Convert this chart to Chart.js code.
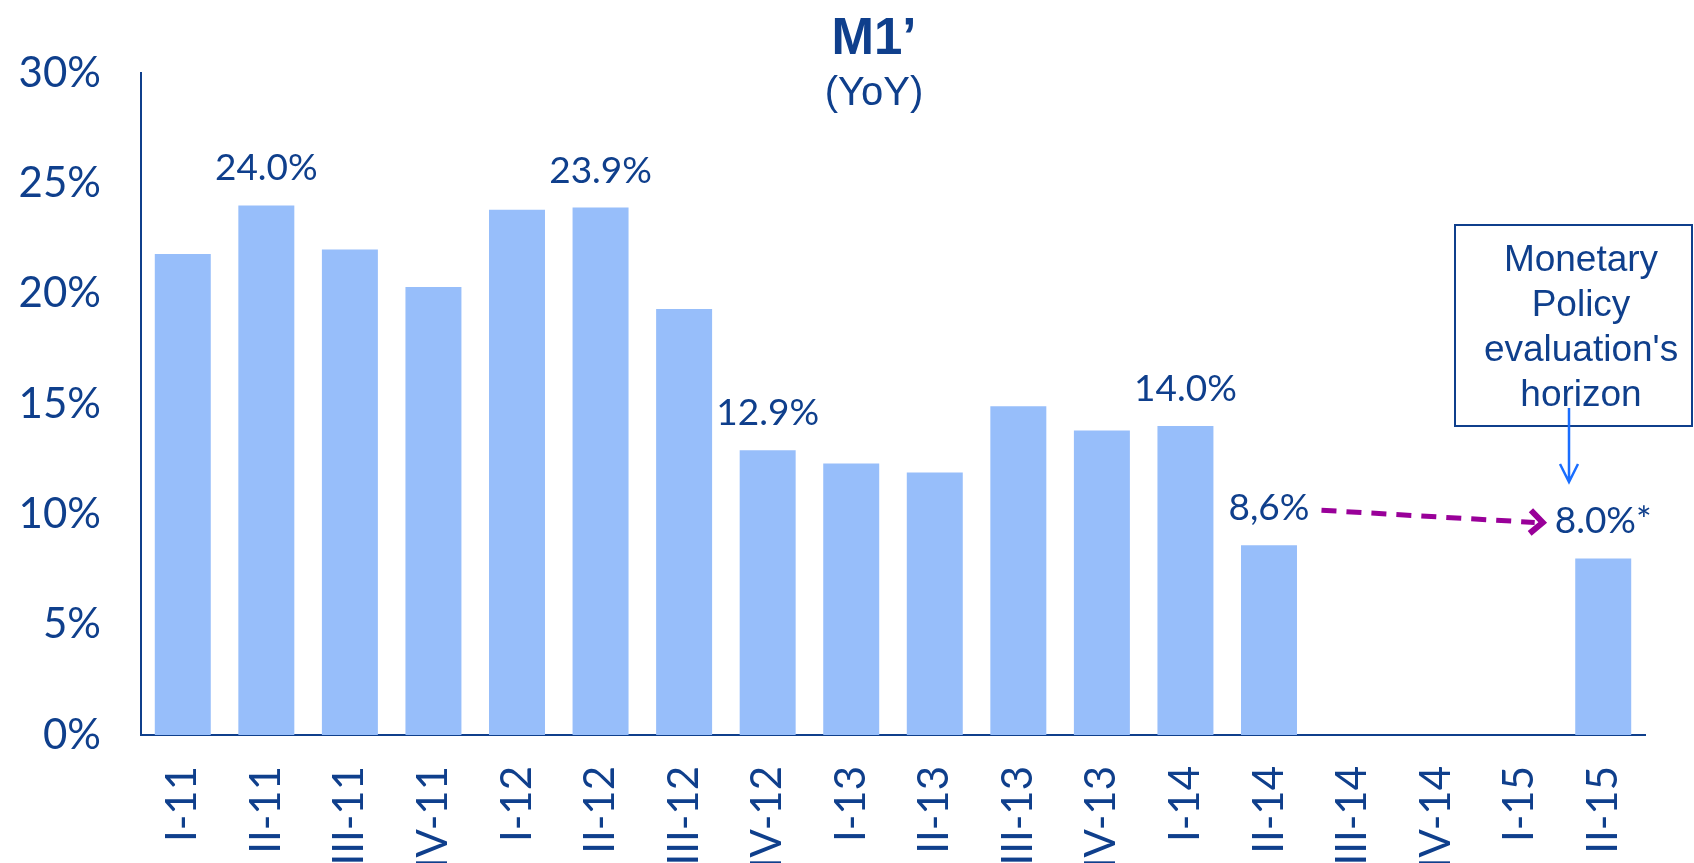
<!DOCTYPE html>
<html>
<head>
<meta charset="utf-8">
<script src="https://cdn.jsdelivr.net/npm/chart.js@4.4.0/dist/chart.umd.min.js"></script>
<style>
  html, body { margin: 0; padding: 0; background: #fff; overflow: hidden; }
  #wrap { width: 1694px; height: 863px; position: relative; }
</style>
</head>
<body>
<div id="wrap"><canvas id="chart"></canvas></div>
<script>
// M1' year-on-year growth, by quarter
const quarters = ['I-11', 'II-11', 'III-11', 'IV-11', 'I-12', 'II-12', 'III-12', 'IV-12',
                  'I-13', 'II-13', 'III-13', 'IV-13', 'I-14', 'II-14', 'III-14', 'IV-14', 'I-15', 'II-15'];
const m1Growth = [21.8, 24.0, 22.0, 20.3, 23.8, 23.9, 19.3, 12.9,
                  12.3, 11.9, 14.9, 13.8, 14.0, 8.6, null, null, null, 8.0];
const barLabels = [null, '24.0%', null, null, null, '23.9%', null, '12.9%',
                   null, null, null, null, '14.0%', '8,6%', null, null, null, '8.0%*'];
const yTicks = [0, 5, 10, 15, 20, 25, 30];
const noteLines = ['Monetary', 'Policy', "evaluation's", 'horizon'];

const NAVY = '#0F3F8C';
const BAR = '#97BEFA';
const PURPLE = '#990099';
const ARROW_BLUE = '#1A6EFF';

const overlay = {
    id: 'overlay',
    afterDatasetsDraw(chart) {
        const ctx = chart.ctx;
        const meta = chart.getDatasetMeta(0);
        ctx.save();
        ctx.fillStyle = NAVY;
        ctx.textAlign = 'center';
        ctx.textBaseline = 'middle';

        // value labels above selected bars
        ctx.font = '37px Lato';
        const pos = {};
        barLabels.forEach((txt, i) => {
            if (!txt) return;
            const bar = meta.data[i];
            const y = bar.y - 37;
            ctx.fillText(txt, bar.x, y);
            pos[i] = { x: bar.x, y: y, w: ctx.measureText(txt).width };
        });

        // title
        ctx.font = 'bold 51px "Liberation Sans"';
        ctx.fillText('M1\u2019', 874, 40);
        ctx.font = '40px "Liberation Sans"';
        ctx.fillText('(YoY)', 874, 94);

        // dashed purple arrow between the two last labels
        const a = pos[13], b = pos[17];
        const x1 = a.x + a.w / 2 + 12, y1 = a.y + 2;
        const x2 = b.x - b.w / 2 - 12, y2 = b.y + 1;
        ctx.strokeStyle = PURPLE;
        ctx.lineWidth = 5;
        ctx.setLineDash([15, 10]);
        ctx.beginPath();
        ctx.moveTo(x1, y1);
        ctx.lineTo(x2 - 8, y2);
        ctx.stroke();
        ctx.setLineDash([]);
        const ang = Math.atan2(y2 - y1, x2 - x1);
        ctx.lineWidth = 6;
        ctx.beginPath();
        ctx.moveTo(x2 - 17 * Math.cos(ang - 0.75), y2 - 17 * Math.sin(ang - 0.75));
        ctx.lineTo(x2, y2);
        ctx.lineTo(x2 - 17 * Math.cos(ang + 0.75), y2 - 17 * Math.sin(ang + 0.75));
        ctx.lineJoin = 'miter';
        ctx.stroke();

        // note box
        ctx.strokeStyle = NAVY;
        ctx.lineWidth = 2;
        ctx.strokeRect(1455, 225, 237, 201);
        ctx.font = '37px "Liberation Sans"';
        noteLines.forEach((t, i) => ctx.fillText(t, 1581, 261 + i * 45));

        // blue pointer arrow
        ctx.strokeStyle = ARROW_BLUE;
        ctx.lineWidth = 2.5;
        ctx.beginPath();
        ctx.moveTo(1569, 408);
        ctx.lineTo(1569, 482);
        ctx.moveTo(1560, 464);
        ctx.lineTo(1569, 482);
        ctx.lineTo(1578, 464);
        ctx.stroke();
        ctx.restore();
    }
};

const ctx = document.getElementById('chart').getContext('2d');
new Chart(ctx, {
    type: 'bar',
    data: {
        labels: quarters,
        datasets: [{
            data: m1Growth,
            backgroundColor: BAR,
            borderWidth: 0,
            categoryPercentage: 1.0,
            barPercentage: 0.67
        }]
    },
    options: {
        responsive: true,
        maintainAspectRatio: false,
        animation: false,
        layout: { padding: { top: 73, right: 49, left: 0, bottom: 0 } },
        plugins: {
            legend: { display: false },
            tooltip: { enabled: false }
        },
        scales: {
            x: {
                grid: { display: false, drawTicks: false },
                border: { display: true, color: NAVY, width: 2 },
                afterFit: (s) => { s.height = 128; },
                ticks: {
                    autoSkip: false,
                    minRotation: 90,
                    maxRotation: 90,
                    padding: 31,
                    color: NAVY,
                    font: { family: 'Lato', size: 42 }
                }
            },
            y: {
                min: 0,
                max: 30,
                grid: { display: false, drawTicks: false },
                border: { display: true, color: NAVY, width: 2 },
                afterFit: (s) => { s.width = 141; },
                afterBuildTicks: (s) => { s.ticks = yTicks.map(v => ({ value: v })); },
                ticks: {
                    padding: 40,
                    color: NAVY,
                    font: { family: 'Lato', size: 42 },
                    callback: (v) => v + '%'
                }
            }
        }
    },
    plugins: [overlay]
});
</script>
</body>
</html>
